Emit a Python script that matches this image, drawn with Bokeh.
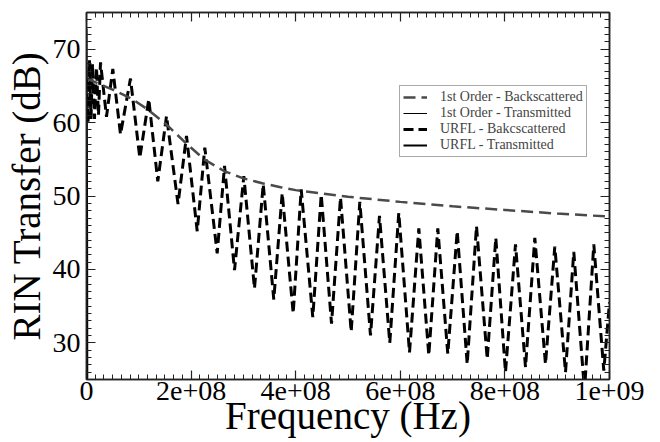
from bokeh.plotting import figure
from bokeh.models import (Range1d, FixedTicker, LinearAxis, Legend, LegendItem,
                          ColumnDataSource, CustomJSTickFormatter)
from bokeh.embed import file_html
from bokeh.resources import INLINE

FONT = "Liberation Serif"

# URFL - backscattered (peaks and troughs), frequency in MHz, RIN transfer in dB
urfl_back_freq_mhz = [0, 2.9, 5.7, 8.6, 11.5, 15.3, 19.1, 22.9, 26.8, 38.2, 50.3, 65.0,
                      84.1, 101.9, 119.1, 136.3, 153.0, 175.0, 191.2, 211.7, 226.2, 249.9,
                      263.9, 283.0, 300.8, 321.2, 337.9, 358.1, 374.2, 395.2, 410.5, 432.7,
                      448.8, 468.5, 485.7, 506.1, 522.6, 543.0, 560.2, 579.9, 597.1, 617.6,
                      635.4, 654.5, 671.7, 690.8, 708.8, 727.9, 745.7, 766.2, 782.6, 801.1,
                      820.3, 839.4, 857.2, 877.6, 895.4, 915.9, 931.7, 952.2, 970.0, 989.1,
                      1000.0]
urfl_back_db = [66.0, 60.0, 68.5, 60.5, 68.0, 60.5, 67.5, 61.0, 68.2, 60.8, 67.3, 58.4,
                66.0, 55.2, 63.2, 52.0, 60.9, 48.9, 58.2, 45.2, 56.6, 42.2,
                54.1, 39.9, 52.7, 37.4, 51.6, 35.9, 50.4, 34.0, 50.9, 33.5,
                50.2, 32.6, 49.8, 31.5, 49.2, 31.0, 47.3, 30.0, 47.7, 28.7,
                45.6, 28.3, 45.6, 28.5, 45.2, 27.1, 45.9, 27.8, 44.3, 26.0,
                43.4, 26.7, 44.3, 27.1, 43.1, 26.0, 42.4, 23.5, 43.4, 26.2,
                35.5]

# 1st order - backscattered
first_back_freq_mhz = [0, 20, 50, 85, 115, 155, 190, 225, 263, 300, 338, 371, 400,
                       500, 600, 700, 800, 900, 1000]
first_back_db = [66.0, 65.4, 64.5, 63.3, 61.9, 59.6, 57.2, 55.0, 53.4, 52.4, 51.7, 51.2,
                 50.8, 49.9, 49.2, 48.6, 48.1, 47.6, 47.2]

# Transmitted curves (fall off the chart almost immediately)
urfl_trans_freq_mhz = [0, 0.4, 0.8, 1.2, 1.6]
urfl_trans_db = [72.8, 64.0, 55.0, 44.3, 20.0]
first_trans_freq_mhz = [0, 0.5, 1.0, 1.5]
first_trans_db = [69.0, 58.0, 48.0, 20.0]

x_tick_values = [0, 2e8, 4e8, 6e8, 8e8, 1e9]
x_tick_labels = ["0", "2e+08", "4e+08", "6e+08", "8e+08", "1e+09"]
y_tick_values = [30, 40, 50, 60, 70]
y_tick_labels = ["30", "40", "50", "60", "70"]

x_minor = [i * 2e8 / 12 for i in range(0, 61)]
y_minor = list(range(25, 76))

p = figure(width=660, height=442, output_backend="svg", toolbar_location=None,
           x_range=Range1d(0, 1e9), y_range=Range1d(25, 75),
           min_border_left=86, min_border_right=51, min_border_top=12, min_border_bottom=63)
p.background_fill_color = "white"
p.border_fill_color = "white"
p.outline_line_color = "#222222"
p.outline_line_width = 1.5
p.grid.visible = False

src_ub = ColumnDataSource(dict(f=[v * 1e6 for v in urfl_back_freq_mhz], db=urfl_back_db))
src_fb = ColumnDataSource(dict(f=[v * 1e6 for v in first_back_freq_mhz], db=first_back_db))
src_ut = ColumnDataSource(dict(f=[v * 1e6 for v in urfl_trans_freq_mhz], db=urfl_trans_db))
src_ft = ColumnDataSource(dict(f=[v * 1e6 for v in first_trans_freq_mhz], db=first_trans_db))

r_ub = p.line("f", "db", source=src_ub, line_color="black", line_width=3, line_dash="10 5")
r_fb = p.line("f", "db", source=src_fb, line_color="#4a4a4a", line_width=2.5, line_dash="12 6")
r_ft = p.line("f", "db", source=src_ft, line_color="black", line_width=1)
r_ut = p.line("f", "db", source=src_ut, line_color="black", line_width=2)

fmt_code = """
const i = vals.findIndex(v => Math.abs(v - tick) < 1e-6 * Math.max(1, Math.abs(v)));
return i >= 0 ? labs[i] : '';
"""
xfmt = CustomJSTickFormatter(args=dict(vals=x_tick_values, labs=x_tick_labels), code=fmt_code)
yfmt = CustomJSTickFormatter(args=dict(vals=y_tick_values, labs=y_tick_labels), code=fmt_code)
blank = CustomJSTickFormatter(code="return '';")

def style(ax, ticks, minor):
    ax.ticker = FixedTicker(ticks=ticks, minor_ticks=minor)
    ax.major_tick_in = 9
    ax.major_tick_out = 0
    ax.minor_tick_in = 5
    ax.minor_tick_out = 0
    ax.axis_line_color = "#222222"
    ax.axis_line_width = 1.5
    ax.major_tick_line_color = "#222222"
    ax.minor_tick_line_color = "#222222"
    ax.major_tick_line_width = 1.2
    ax.minor_tick_line_width = 1
    ax.major_label_text_font = FONT
    ax.axis_label_text_font = FONT
    ax.axis_label_text_font_style = "normal"
    ax.major_label_text_color = "black"
    ax.axis_label_text_color = "black"

xa = p.xaxis[0]
style(xa, x_tick_values, x_minor)
xa.formatter = xfmt
xa.major_label_text_font_size = "28px"
xa.major_label_standoff = 2
xa.axis_label = "Frequency (Hz)"
xa.axis_label_text_font_size = "39px"
xa.axis_label_standoff = -9

ya = p.yaxis[0]
style(ya, y_tick_values, y_minor)
ya.formatter = yfmt
ya.major_label_text_font_size = "28px"
ya.major_label_standoff = 6
ya.major_label_orientation = "horizontal"
ya.axis_label = "RIN Transfer (dB)"
ya.axis_label_text_font_size = "39px"
ya.axis_label_standoff = 2

top = LinearAxis()
style(top, x_tick_values, x_minor)
top.formatter = blank
top.major_label_text_font_size = "1px"
top.major_label_standoff = 0
p.add_layout(top, "above")

right = LinearAxis()
style(right, y_tick_values, y_minor)
right.formatter = blank
right.major_label_text_font_size = "1px"
right.major_label_standoff = 0
p.add_layout(right, "right")

legend = Legend(items=[
    LegendItem(label="1st Order - Backscattered", renderers=[r_fb]),
    LegendItem(label="1st Order - Transmitted", renderers=[r_ft]),
    LegendItem(label="URFL - Bakcscattered", renderers=[r_ub]),
    LegendItem(label="URFL - Transmitted", renderers=[r_ut]),
], location=(313, 222))
legend.label_text_font = FONT
legend.label_text_font_size = "14px"
legend.label_height = 14
legend.glyph_height = 14
legend.glyph_width = 24
legend.label_standoff = 13
legend.spacing = -2
legend.padding = 3
legend.margin = 0
legend.border_line_color = "#555555"
legend.border_line_width = 1
legend.background_fill_alpha = 1
p.add_layout(legend, "center")

open("out.html", "w").write(file_html(p, INLINE))
